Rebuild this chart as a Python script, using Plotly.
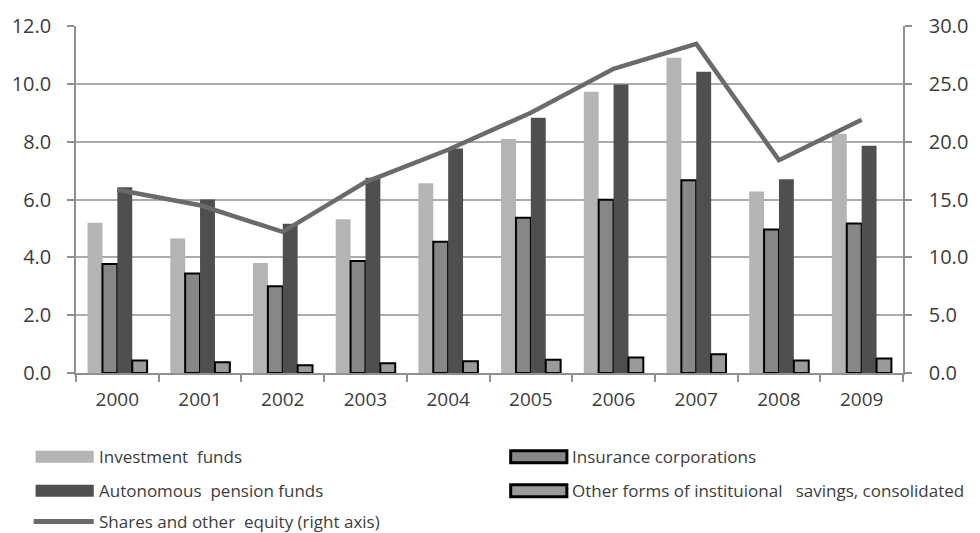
import plotly.graph_objects as go

# ---- data -------------------------------------------------------------
years = ["2000", "2001", "2002", "2003", "2004", "2005", "2006", "2007", "2008", "2009"]

investment_funds = [5.2, 4.65, 3.8, 5.32, 6.56, 8.09, 9.73, 10.9, 6.28, 8.27]
insurance_corps = [3.77, 3.44, 3.0, 3.87, 4.54, 5.37, 5.99, 6.67, 4.96, 5.17]
pension_funds = [6.42, 6.0, 5.16, 6.75, 7.76, 8.83, 9.98, 10.42, 6.7, 7.86]
other_savings = [0.43, 0.37, 0.27, 0.34, 0.41, 0.46, 0.54, 0.65, 0.43, 0.5]
shares_equity = [15.85, 14.5, 12.2, 16.5, 19.3, 22.5, 26.3, 28.45, 18.4, 21.9]

left_ticks = [0, 2, 4, 6, 8, 10, 12]
right_ticks = [0, 5, 10, 15, 20, 25, 30]

# ---- styling ----------------------------------------------------------
C_INV = "#b4b4b4"
C_PEN = "#4f4f4f"
C_INS = "#878787"
C_OTH = "#9a9a9a"
C_LINE = "#6a6a6a"
C_GRID = "#ababab"
C_AXIS = "#8f8f8f"
C_TEXT = "#3c3c3c"
FONT = "Open Sans"

W, H = 980, 533
L, R, T, B = 73, 68, 25, 160
PW, PH = W - L - R, H - T - B


def px(x):
    return (x - L) / PW


def py(y):
    return (H - B - y) / PH


fig = go.Figure()

bar_series = [
    ("Investment  funds", investment_funds, C_INV, 0),
    ("Insurance corporations", insurance_corps, C_INS, 2),
    ("Autonomous  pension funds", pension_funds, C_PEN, 0),
    ("Other forms of instituional   savings, consolidated", other_savings, C_OTH, 2),
]
for name, vals, col, lw in bar_series:
    fig.add_trace(go.Bar(
        x=years, y=vals, name=name,
        marker=dict(color=col, line=dict(color="#000000", width=lw)),
        showlegend=False,
    ))

fig.add_trace(go.Scatter(
    x=years, y=shares_equity, name="Shares and other  equity (right axis)",
    mode="lines", line=dict(color=C_LINE, width=4.5),
    yaxis="y2", showlegend=False,
))

fig.update_layout(
    width=W, height=H,
    margin=dict(l=L, r=R, t=T, b=B, pad=0),
    paper_bgcolor="white", plot_bgcolor="white",
    barmode="group", bargap=0.28, bargroupgap=0.0,
    font=dict(family=FONT, size=19, color=C_TEXT),
    xaxis=dict(
        type="category", showgrid=False,
        showline=True, linecolor=C_AXIS, linewidth=1.5,
        ticks="outside", tickson="boundaries", ticklen=7, tickcolor=C_AXIS, tickwidth=1.5,
        tickfont=dict(size=19), ticklabelstandoff=8,
    ),
    yaxis=dict(
        range=[0, 12], tickvals=left_ticks,
        ticktext=[f"{v:.1f}" for v in left_ticks],
        showgrid=True, gridcolor=C_GRID, gridwidth=1.5,
        showline=True, linecolor=C_AXIS, linewidth=1.5,
        ticks="outside", ticklen=7, tickcolor=C_AXIS, tickwidth=1.5,
        tickfont=dict(size=20), ticklabelstandoff=12, zeroline=False,
    ),
    yaxis2=dict(
        range=[0, 30], tickvals=right_ticks,
        ticktext=[f"{v:.1f}" for v in right_ticks],
        overlaying="y", side="right", showgrid=False,
        showline=True, linecolor=C_AXIS, linewidth=1.5,
        ticks="outside", ticklen=7, tickcolor=C_AXIS, tickwidth=1.5,
        tickfont=dict(size=20), ticklabelstandoff=13, zeroline=False,
    ),
)

# ---- legend drawn below the plot area --------------------------------
legend_items = [
    # (label, kind, fill, border, swatch x0, swatch x1, row y)
    ("Investment  funds", "box", C_INV, None, 32, 91, 457),
    ("Insurance corporations", "box", C_INS, "#000000", 514, 571, 457),
    ("Autonomous  pension funds", "box", C_PEN, None, 32, 91, 491),
    ("Other forms of instituional   savings, consolidated", "box", C_OTH, "#000000", 514, 571, 491),
    ("Shares and other  equity (right axis)", "line", C_LINE, None, 30, 91, 522),
]
shapes = []
annotations = []
for label, kind, fill, border, x0, x1, yc in legend_items:
    if kind == "box":
        shapes.append(dict(
            type="rect", xref="paper", yref="paper",
            x0=px(x0), x1=px(x1), y0=py(yc + 6), y1=py(yc - 6),
            fillcolor=fill,
            line=dict(color=border if border else fill, width=3 if border else 0),
        ))
    else:
        shapes.append(dict(
            type="line", xref="paper", yref="paper",
            x0=px(x0), x1=px(x1), y0=py(yc), y1=py(yc),
            line=dict(color=fill, width=5),
        ))
    annotations.append(dict(
        text=label.replace("  ", "&nbsp; "), xref="paper", yref="paper",
        x=px(x1 + 3), y=py(yc), xanchor="left", yanchor="middle",
        showarrow=False, font=dict(family=FONT, size=17, color=C_TEXT),
    ))

fig.update_layout(shapes=shapes, annotations=annotations)

fig.write_html("out.html")
